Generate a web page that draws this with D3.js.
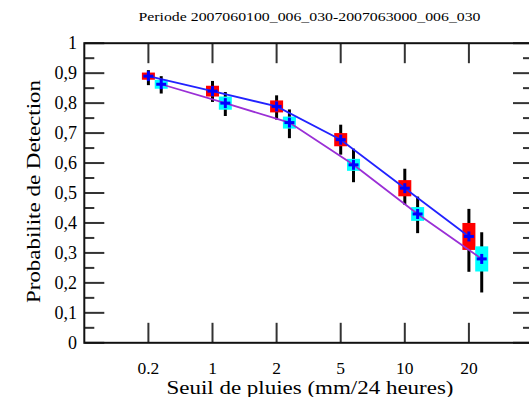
<!DOCTYPE html>
<html>
<head>
<meta charset="utf-8">
<script src="https://cdn.jsdelivr.net/npm/d3@7"></script>
<style>
  html, body { margin: 0; padding: 0; background: #fff; }
  svg { display: block; }
  text { font-family: "Liberation Serif", "DejaVu Serif", serif; fill: #000; }
</style>
</head>
<body>
<div id="chart"></div>
<script>
// Rain thresholds (mm/24 h) on the x axis
const thresholds = ["0.2", "1", "2", "5", "10", "20"];

// Series A (red boxes, blue line): probability of detection
const podA    = [0.890, 0.840, 0.789, 0.678, 0.516, 0.355];
const podALo  = [0.860, 0.804, 0.745, 0.628, 0.461, 0.237];
const podAHi  = [0.910, 0.874, 0.826, 0.728, 0.581, 0.447];
const boxALo  = [0.878, 0.822, 0.769, 0.656, 0.489, 0.310];
const boxAHi  = [0.902, 0.858, 0.809, 0.700, 0.543, 0.400];

// Series B (cyan boxes, purple line)
const podB    = [0.863, 0.800, 0.735, 0.594, 0.430, 0.280];
const podBLo  = [0.832, 0.757, 0.683, 0.536, 0.366, 0.168];
const podBHi  = [0.890, 0.837, 0.779, 0.648, 0.488, 0.369];
const boxBLo  = [0.848, 0.778, 0.715, 0.574, 0.407, 0.238];
const boxBHi  = [0.878, 0.822, 0.755, 0.614, 0.453, 0.322];

// Y tick labels (French decimal comma)
const yTickValues = [0, 0.1, 0.2, 0.3, 0.4, 0.5, 0.6, 0.7, 0.8, 0.9, 1];
const yTickLabels = ["0", "0,1", "0,2", "0,3", "0,4", "0,5", "0,6", "0,7", "0,8", "0,9", "1"];

const titleText = "Periode 2007060100_006_030-2007063000_006_030";
const xTitle = "Seuil de pluies (mm/24 heures)";
const yTitle = "Probabilite de Detection";

const W = 529, H = 397;
const plot = { left: 84.3, right: 533, top: 43.2, bottom: 342.8 };

const svg = d3.select("#chart").append("svg")
  .attr("width", W).attr("height", H);
svg.append("rect").attr("width", W).attr("height", H).attr("fill", "#fff");

// Category index 1..6 placed on a 0..7 linear scale
const x = d3.scaleLinear().domain([0, 7]).range([plot.left, plot.right]);
const y = d3.scaleLinear().domain([0, 1]).range([plot.bottom, plot.top]);
const offsetB = 0.2;     // series B is shifted right of its category
const boxW = 13;

// Ticks pointing inward, on all four sides
const tickColor = "#333";
const majorY = d3.range(0, 11).map(i => i / 10);
const minorY = d3.range(0, 10).map(i => i / 10 + 0.05);
const catIdx = thresholds.map((d, i) => i + 1);

const ticks = svg.append("g").attr("stroke", tickColor).attr("stroke-width", 2);
function yTicks(vals, len) {
  ticks.selectAll(null).data(vals).enter().append("line")
    .attr("x1", plot.left).attr("x2", plot.left + len)
    .attr("y1", d => y(d)).attr("y2", d => y(d));
  ticks.selectAll(null).data(vals).enter().append("line")
    .attr("x1", plot.right).attr("x2", plot.right - len)
    .attr("y1", d => y(d)).attr("y2", d => y(d));
}
yTicks(majorY, 20);
yTicks(minorY, 10);
ticks.selectAll(null).data(catIdx).enter().append("line")
  .attr("x1", d => x(d)).attr("x2", d => x(d))
  .attr("y1", plot.bottom).attr("y2", plot.bottom - 20);
ticks.selectAll(null).data(catIdx).enter().append("line")
  .attr("x1", d => x(d)).attr("x2", d => x(d))
  .attr("y1", plot.top).attr("y2", plot.top + 20);

// Frame
svg.append("rect")
  .attr("x", plot.left).attr("y", plot.top)
  .attr("width", plot.right - plot.left).attr("height", plot.bottom - plot.top)
  .attr("fill", "none").attr("stroke", "#111").attr("stroke-width", 2);

// Y tick labels
svg.append("g").selectAll("text").data(yTickValues).enter().append("text")
  .attr("x", 77).attr("y", d => y(d) + 6)
  .attr("text-anchor", "end").attr("font-size", 18)
  .text((d, i) => yTickLabels[i]);

// X tick labels
svg.append("g").selectAll("text").data(thresholds).enter().append("text")
  .attr("x", (d, i) => x(i + 1)).attr("y", 374)
  .attr("text-anchor", "middle").attr("font-size", 17.5)
  .text(d => d);

// Titles
svg.append("text").attr("x", 309.5).attr("y", 21)
  .attr("text-anchor", "middle").attr("font-size", 11.5)
  .attr("textLength", 342).attr("lengthAdjust", "spacingAndGlyphs")
  .text(titleText);
svg.append("text").attr("x", 310).attr("y", 393.5)
  .attr("text-anchor", "middle").attr("font-size", 18)
  .attr("textLength", 287).attr("lengthAdjust", "spacingAndGlyphs")
  .text(xTitle);
svg.append("text")
  .attr("transform", `translate(40,${(80 + 303) / 2}) rotate(-90)`)
  .attr("text-anchor", "middle").attr("font-size", 19)
  .attr("textLength", 223).attr("lengthAdjust", "spacingAndGlyphs")
  .text(yTitle);

// Series drawing
function series(vals, lo, hi, bLo, bHi, dx, boxColor, lineColor) {
  const pts = vals.map((v, i) => ({ i: i + 1 + dx, v, lo: lo[i], hi: hi[i], bLo: bLo[i], bHi: bHi[i] }));
  return { pts, boxColor, lineColor };
}
const sA = series(podA, podALo, podAHi, boxALo, boxAHi, 0, "#ff0000", "#2222ff");
const sB = series(podB, podBLo, podBHi, boxBLo, boxBHi, offsetB, "#00ffff", "#9a2fd6");

[sA, sB].forEach(s => {
  const g = svg.append("g");
  // error bars
  g.selectAll(".err").data(s.pts).enter().append("line")
    .attr("x1", d => x(d.i)).attr("x2", d => x(d.i))
    .attr("y1", d => y(d.lo)).attr("y2", d => y(d.hi))
    .attr("stroke", "#000").attr("stroke-width", 3);
  // boxes
  g.selectAll(".box").data(s.pts).enter().append("rect")
    .attr("x", d => x(d.i) - boxW / 2).attr("width", boxW)
    .attr("y", d => y(d.bHi)).attr("height", d => y(d.bLo) - y(d.bHi))
    .attr("fill", s.boxColor);
});

const line = d3.line().x(d => x(d.i)).y(d => y(d.v));
[sA, sB].forEach(s => {
  svg.append("path").datum(s.pts).attr("d", line)
    .attr("fill", "none").attr("stroke", s.lineColor).attr("stroke-width", 1.8);
});

// Blue "+" markers at each point
[sA, sB].forEach(s => {
  const g = svg.append("g").attr("stroke", "#0000ff").attr("stroke-width", 3);
  g.selectAll(null).data(s.pts).enter().append("line")
    .attr("x1", d => x(d.i) - 5).attr("x2", d => x(d.i) + 5)
    .attr("y1", d => y(d.v)).attr("y2", d => y(d.v));
  g.selectAll(null).data(s.pts).enter().append("line")
    .attr("x1", d => x(d.i)).attr("x2", d => x(d.i))
    .attr("y1", d => y(d.v) - 5).attr("y2", d => y(d.v) + 5);
});
</script>
</body>
</html>
